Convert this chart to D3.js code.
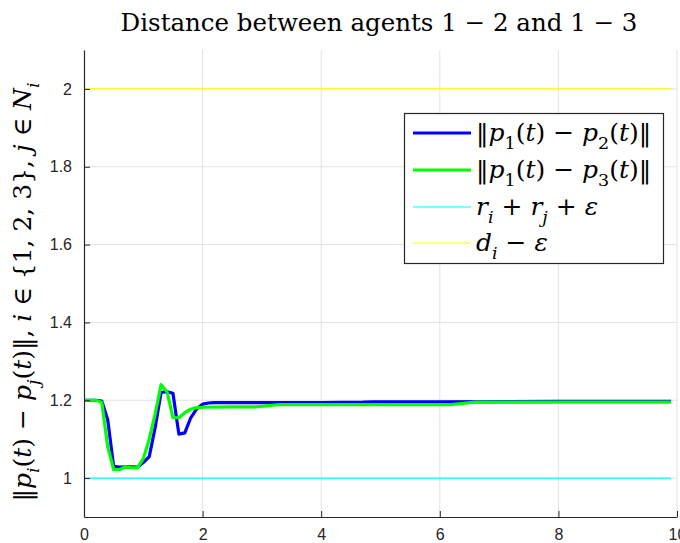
<!DOCTYPE html>
<html lang="en">
<head>
<meta charset="utf-8">
<title>Distance between agents</title>
<script src="https://d3js.org/d3.v7.min.js"></script>
<style>
  body { margin: 0; background: #fff; }
  .tick text { font-family: "Liberation Sans", Arial, sans-serif; font-size: 16px; fill: #262626; }
  .math { font-family: "DejaVu Serif", "Liberation Serif", serif; fill: #000; }
</style>
</head>
<body>
<script>
// time stamps and distances
const tBlue  = [0, 0.1, 0.2, 0.3, 0.4, 0.5, 0.6, 0.7, 0.8, 0.9, 1.0, 1.1, 1.2, 1.3, 1.4, 1.5, 1.6, 1.7, 1.8, 1.9, 2.0, 2.1, 2.2, 3.0, 4.0, 4.7, 4.9, 6.0, 8.0, 9.9];
const blueV  = [1.2, 1.2, 1.2, 1.198, 1.15, 1.03, 1.028, 1.029, 1.029, 1.028, 1.04, 1.055, 1.13, 1.22, 1.222, 1.218, 1.113, 1.116, 1.155, 1.178, 1.19, 1.193, 1.194, 1.194, 1.194, 1.195, 1.196, 1.196, 1.197, 1.197];
const tGreen = [0, 0.1, 0.2, 0.3, 0.4, 0.5, 0.6, 0.7, 0.8, 0.9, 1.0, 1.1, 1.2, 1.3, 1.4, 1.5, 1.6, 1.7, 1.8, 1.9, 2.0, 2.5, 2.9, 3.3, 6.2, 6.6, 9.9];
const greenV = [1.2, 1.2, 1.2, 1.195, 1.08, 1.022, 1.022, 1.029, 1.027, 1.026, 1.05, 1.1, 1.165, 1.24, 1.222, 1.155, 1.155, 1.168, 1.177, 1.181, 1.182, 1.183, 1.183, 1.189, 1.189, 1.195, 1.195];
const tLimits = [0, 9.9];
const lowerBound = 1.0;   // r_i + r_j + eps
const upperBound = 2.0;   // d_i - eps

const xTicks = [0, 2, 4, 6, 8, 10];
const yTicks = [1, 1.2, 1.4, 1.6, 1.8, 2];
const yTickLabels = ["1", "1.2", "1.4", "1.6", "1.8", "2"];

const width = 680, height = 543;
const svg = d3.select("body").append("svg")
  .attr("width", width).attr("height", height);

const x = d3.scaleLinear().domain([0, 10]).range([84, 677]);
const y = d3.scaleLinear().domain([0.9, 2.1]).range([517, 50]);

// grid
svg.append("g").selectAll("line").data(xTicks.slice(1)).join("line")
  .attr("x1", d => x(d)).attr("x2", d => x(d))
  .attr("y1", y(2.1)).attr("y2", y(0.9))
  .attr("stroke", "#e3e3e3").attr("stroke-width", 1);
svg.append("g").selectAll("line").data(yTicks).join("line")
  .attr("x1", x(0)).attr("x2", x(10))
  .attr("y1", d => y(d)).attr("y2", d => y(d))
  .attr("stroke", "#e3e3e3").attr("stroke-width", 1);

// bounds
svg.append("line").attr("x1", x(tLimits[0])).attr("x2", x(tLimits[1]))
  .attr("y1", y(lowerBound)).attr("y2", y(lowerBound))
  .attr("stroke", "#00ffff").attr("stroke-width", 1.2);
svg.append("line").attr("x1", x(tLimits[0])).attr("x2", x(tLimits[1]))
  .attr("y1", y(upperBound)).attr("y2", y(upperBound))
  .attr("stroke", "#ffff00").attr("stroke-width", 1.2);

const line = d3.line().x(d => x(d[0])).y(d => y(d[1]));
svg.append("path").datum(d3.zip(tBlue, blueV))
  .attr("d", line).attr("fill", "none")
  .attr("stroke", "#0000ff").attr("stroke-width", 3.2).attr("stroke-linejoin", "round");
svg.append("path").datum(d3.zip(tGreen, greenV))
  .attr("d", line).attr("fill", "none")
  .attr("stroke", "#00ff00").attr("stroke-width", 3.2).attr("stroke-linejoin", "round");

// axes
const xAxis = svg.append("g").attr("transform", `translate(0,${y(0.9)})`)
  .call(d3.axisBottom(x).tickValues(xTicks).tickSizeInner(-6).tickSizeOuter(0).tickPadding(12));
const yAxis = svg.append("g").attr("transform", `translate(${x(0)},0)`)
  .call(d3.axisLeft(y).tickValues(yTicks).tickFormat((d, i) => yTickLabels[i]).tickSizeInner(-6).tickSizeOuter(0).tickPadding(12));
[xAxis, yAxis].forEach(a => {
  a.select(".domain").attr("stroke", "#262626").attr("stroke-width", 1.2);
  a.selectAll(".tick line").attr("stroke", "#262626");
});

// math text helper: segments [text, kind] kind: r roman, i italic, s subscript italic, n subscript roman
function mathText(sel, segs, size) {
  let shifted = false;
  segs.forEach(([t, k]) => {
    const sp = sel.append("tspan").text(t);
    const sub = (k === "s" || k === "n");
    sp.attr("font-style", (k === "i" || k === "s") ? "italic" : "normal")
      .attr("font-size", sub ? size * 0.7 : size);
    if (sub && !shifted) { sp.attr("dy", size * 0.3); shifted = true; }
    else if (!sub && shifted) { sp.attr("dy", -size * 0.3); shifted = false; }
  });
}

// title
svg.append("text").attr("class", "math")
  .attr("x", 379).attr("y", 31).attr("text-anchor", "middle")
  .attr("font-size", 24.5)
  .text("Distance between agents 1 \u2212 2 and 1 \u2212 3");

// y label
const yl = svg.append("text").attr("class", "math")
  .attr("transform", "translate(31,292) rotate(-90)")
  .attr("text-anchor", "middle");
mathText(yl, [["\u2016", "r"], ["p", "i"], ["i", "s"], ["(", "r"], ["t", "i"], [") \u2212 ", "r"], ["p", "i"], ["j", "s"],
  ["(", "r"], ["t", "i"], [")\u2016, ", "r"], ["i", "i"], [" \u2208 {1, 2, 3}, ", "r"], ["j", "i"], [" \u2208 ", "r"], ["N", "i"], ["i", "s"]], 25);

// legend
const lg = svg.append("g");
lg.append("rect").attr("x", 404.5).attr("y", 113.5).attr("width", 259).attr("height", 150)
  .attr("fill", "#fff").attr("stroke", "#262626").attr("stroke-width", 1.2);
const legendItems = [
  { color: "#0000ff", w: 3.2, segs: [["\u2016", "r"], ["p", "i"], ["1", "n"], ["(", "r"], ["t", "i"], [") \u2212 ", "r"], ["p", "i"], ["2", "n"], ["(", "r"], ["t", "i"], [")\u2016", "r"]] },
  { color: "#00ff00", w: 3.2, segs: [["\u2016", "r"], ["p", "i"], ["1", "n"], ["(", "r"], ["t", "i"], [") \u2212 ", "r"], ["p", "i"], ["3", "n"], ["(", "r"], ["t", "i"], [")\u2016", "r"]] },
  { color: "#00ffff", w: 1.2, segs: [["r", "i"], ["i", "s"], [" + ", "r"], ["r", "i"], ["j", "s"], [" + ", "r"], ["\u03b5", "i"]] },
  { color: "#ffff00", w: 1.2, segs: [["d", "i"], ["i", "s"], [" \u2212 ", "r"], ["\u03b5", "i"]] }
];
const rowY = [133, 170, 207, 243];
legendItems.forEach((it, i) => {
  lg.append("line").attr("x1", 413).attr("x2", 471).attr("y1", rowY[i]).attr("y2", rowY[i])
    .attr("stroke", it.color).attr("stroke-width", it.w);
  const t = lg.append("text").attr("class", "math").attr("x", 476).attr("y", rowY[i] + 8);
  mathText(t, it.segs, 25);
});
</script>
</body>
</html>
